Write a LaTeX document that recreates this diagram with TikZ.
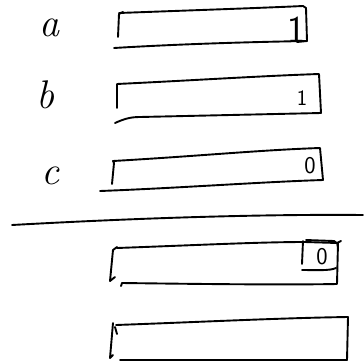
\documentclass[tikz,border=0pt]{standalone}
\begin{document}
\begin{tikzpicture}[x=1pt,y=-1pt,
  pen/.style={line width=1.9pt,line cap=round,line join=round,black},
  lbl/.style={inner sep=0pt,anchor=base,font=\fontsize{40}{40}\selectfont\itshape},
  digit/.style={inner sep=0pt,anchor=base,font=\sffamily}]
\useasboundingbox (0,0) rectangle (364,362);
% labels
\node[lbl] (la) at (49,36) {a};
\node[lbl] (lb) at (45,108) {b};
\node[lbl] (lc) at (50,184) {c};
% box a
\draw[pen] (123,12) -- (119,14) -- (118,37);
\draw[pen] (119,13) .. controls (200,10) and (260,8) .. (303,6) -- (306,8) -- (307,41);
\draw[pen] (114,48) .. controls (180,44) and (250,42) .. (307,41) -- (297,42);
\node[digit,font=\sffamily\fontsize{38}{38}\selectfont] (da) at (296,42) {1};
% box b
\draw[pen] (117,108) -- (117,84) .. controls (200,80) and (260,76) .. (319,74) -- (321,113);
\draw[pen] (115,123) .. controls (124,119) and (130,117) .. (140,117) -- (321,113);
\node[digit,font=\sffamily\fontsize{22}{22}\selectfont] (db) at (302,105) {1};
% box c
\draw[pen] (112,184) -- (114,163) -- (113,161) .. controls (200,156) and (260,150) .. (320,148) -- (323,180);
\draw[pen] (100,191) .. controls (180,188) and (260,182) .. (323,180);
\node[digit,font=\sffamily\fontsize{24}{24}\selectfont] (dc) at (310,173) {0};
% separator
\draw[pen] (12,225) .. controls (120,219) and (250,214) .. (363,215);
% box 4
\draw[pen] (117,247) -- (113,250) -- (110,281) -- (115,277);
\draw[pen] (117,248) .. controls (200,245) and (260,242) .. (305,242) -- (337,243) -- (341,241);
\draw[pen] (121,286) -- (122,283) .. controls (200,284) and (280,285) .. (337,284) -- (338,243);
\draw[pen] (306,240) -- (334,241) .. controls (337,242) and (338,244) .. (338,247);
\draw[pen] (303,241) -- (302,264);
\draw[pen] (302,270) .. controls (315,270) and (330,271) .. (336,268);
\node[digit,font=\sffamily\fontsize{24}{24}\selectfont] (dd) at (322,264) {0};
% box 5
\draw[pen] (116,325) .. controls (200,322) and (280,318) .. (348,317) -- (347,360);
\draw[pen] (113,323) -- (110,358) -- (113,355);
\draw[pen] (115,327) -- (117,334);
\draw[pen] (120,360) -- (347,360);
\end{tikzpicture}
\end{document}
